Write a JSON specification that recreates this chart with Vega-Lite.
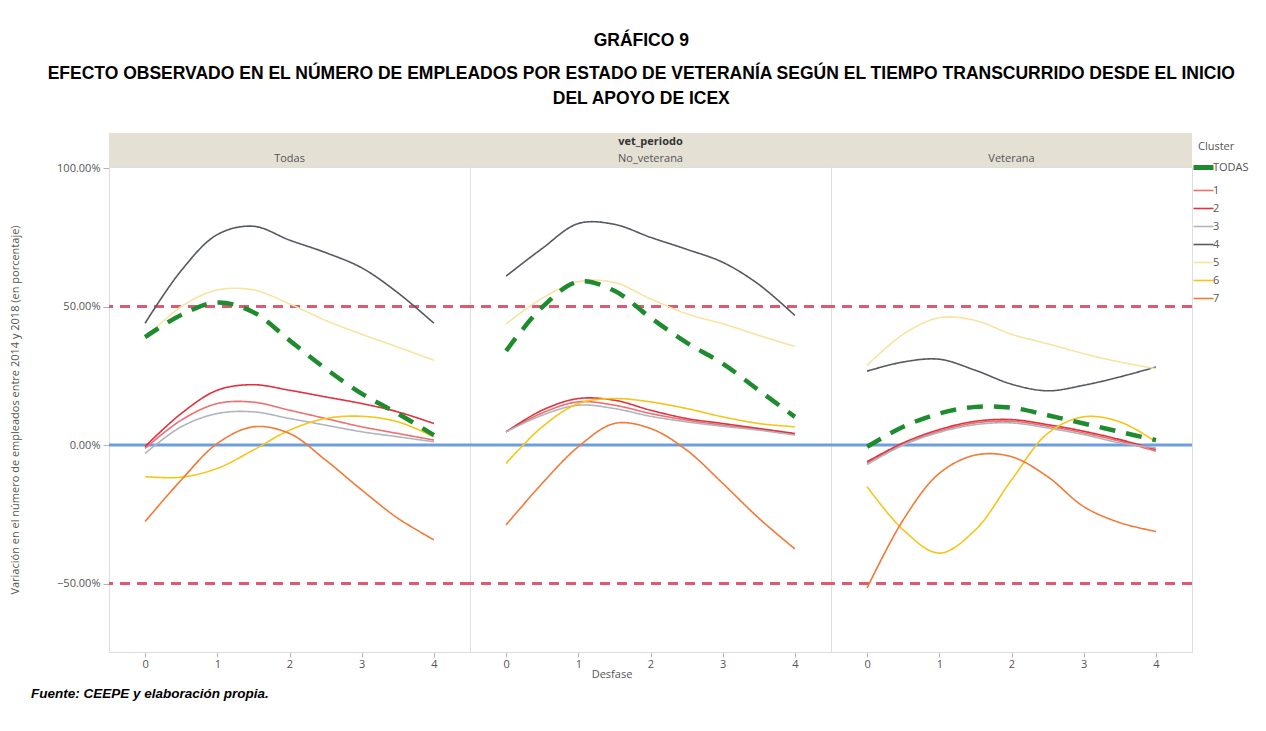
{
  "$schema": "https://vega.github.io/schema/vega-lite/v6.json",
  "padding": {"left": 9, "top": 32, "right": 0, "bottom": 0},
  "bounds": "flush",
  "config": {
    "font": "Open Sans",
    "view": {"stroke": "#dedede", "strokeWidth": 1},
    "axis": {"labelColor": "#555", "labelFontSize": 11, "domainColor": "#b5b5b5", "tickColor": "#b5b5b5", "grid": false, "titleColor": "#555", "titleFontWeight": "normal", "titleFontSize": 11},
    "legend": {"titleColor": "#555", "titleFontWeight": "normal", "titleFontSize": 11, "labelColor": "#555", "labelFontSize": 11, "symbolType": "stroke", "symbolSize": 400, "symbolStrokeWidth": 2, "rowPadding": 6, "labelOffset": 4, "titlePadding": 10}
  },
  "title": {
    "text": "GRÁFICO 9",
    "subtitle": ["EFECTO OBSERVADO EN EL NÚMERO DE EMPLEADOS POR ESTADO DE VETERANÍA SEGÚN EL TIEMPO TRANSCURRIDO DESDE EL INICIO", "DEL APOYO DE ICEX"],
    "anchor": "middle",
    "frame": "bounds",
    "dx": 12,
    "font": "Liberation Sans",
    "fontSize": 17.5,
    "fontWeight": "bold",
    "color": "#000",
    "subtitleFont": "Liberation Sans",
    "subtitleFontSize": 17.5,
    "subtitleFontWeight": "bold",
    "subtitleColor": "#000",
    "subtitleLineHeight": 25,
    "subtitlePadding": 15,
    "offset": 25
  },
  "data": {"values": [
    {"panel":"Todas","cluster":"1","x":0,"v":-1.2},{"panel":"Todas","cluster":"1","x":0.5,"v":9},{"panel":"Todas","cluster":"1","x":1,"v":15},{"panel":"Todas","cluster":"1","x":1.5,"v":15.5},{"panel":"Todas","cluster":"1","x":2,"v":12.6},{"panel":"Todas","cluster":"1","x":2.5,"v":9.6},{"panel":"Todas","cluster":"1","x":3,"v":6.6},{"panel":"Todas","cluster":"1","x":3.5,"v":4.2},{"panel":"Todas","cluster":"1","x":4,"v":1.8},
    {"panel":"Todas","cluster":"2","x":0,"v":-0.5},{"panel":"Todas","cluster":"2","x":0.5,"v":11.4},{"panel":"Todas","cluster":"2","x":1,"v":19.8},{"panel":"Todas","cluster":"2","x":1.5,"v":21.8},{"panel":"Todas","cluster":"2","x":2,"v":19.8},{"panel":"Todas","cluster":"2","x":2.5,"v":17.4},{"panel":"Todas","cluster":"2","x":3,"v":15},{"panel":"Todas","cluster":"2","x":3.5,"v":12},{"panel":"Todas","cluster":"2","x":4,"v":7.8},
    {"panel":"Todas","cluster":"3","x":0,"v":-3},{"panel":"Todas","cluster":"3","x":0.5,"v":6.6},{"panel":"Todas","cluster":"3","x":1,"v":11.4},{"panel":"Todas","cluster":"3","x":1.5,"v":12},{"panel":"Todas","cluster":"3","x":2,"v":9.6},{"panel":"Todas","cluster":"3","x":2.5,"v":7.2},{"panel":"Todas","cluster":"3","x":3,"v":4.8},{"panel":"Todas","cluster":"3","x":3.5,"v":3},{"panel":"Todas","cluster":"3","x":4,"v":1.2},
    {"panel":"Todas","cluster":"4","x":0,"v":44},{"panel":"Todas","cluster":"4","x":0.5,"v":63},{"panel":"Todas","cluster":"4","x":1,"v":76},{"panel":"Todas","cluster":"4","x":1.5,"v":79},{"panel":"Todas","cluster":"4","x":2,"v":74},{"panel":"Todas","cluster":"4","x":2.5,"v":69.5},{"panel":"Todas","cluster":"4","x":3,"v":64},{"panel":"Todas","cluster":"4","x":3.5,"v":55},{"panel":"Todas","cluster":"4","x":4,"v":44},
    {"panel":"Todas","cluster":"5","x":0,"v":38.5},{"panel":"Todas","cluster":"5","x":0.5,"v":50},{"panel":"Todas","cluster":"5","x":1,"v":56},{"panel":"Todas","cluster":"5","x":1.5,"v":56},{"panel":"Todas","cluster":"5","x":2,"v":51},{"panel":"Todas","cluster":"5","x":2.5,"v":45},{"panel":"Todas","cluster":"5","x":3,"v":40},{"panel":"Todas","cluster":"5","x":3.5,"v":35.4},{"panel":"Todas","cluster":"5","x":4,"v":30.6},
    {"panel":"Todas","cluster":"6","x":0,"v":-11.4},{"panel":"Todas","cluster":"6","x":0.5,"v":-11.6},{"panel":"Todas","cluster":"6","x":1,"v":-8.4},{"panel":"Todas","cluster":"6","x":1.5,"v":-1.8},{"panel":"Todas","cluster":"6","x":2,"v":5.4},{"panel":"Todas","cluster":"6","x":2.5,"v":9.6},{"panel":"Todas","cluster":"6","x":3,"v":10.4},{"panel":"Todas","cluster":"6","x":3.5,"v":8.4},{"panel":"Todas","cluster":"6","x":4,"v":3},
    {"panel":"Todas","cluster":"7","x":0,"v":-27.6},{"panel":"Todas","cluster":"7","x":0.5,"v":-12.6},{"panel":"Todas","cluster":"7","x":1,"v":0.6},{"panel":"Todas","cluster":"7","x":1.5,"v":6.6},{"panel":"Todas","cluster":"7","x":2,"v":4.2},{"panel":"Todas","cluster":"7","x":2.5,"v":-5.4},{"panel":"Todas","cluster":"7","x":3,"v":-16.2},{"panel":"Todas","cluster":"7","x":3.5,"v":-26.4},{"panel":"Todas","cluster":"7","x":4,"v":-34.2},
    {"panel":"Todas","cluster":"TODAS","x":0,"v":39},{"panel":"Todas","cluster":"TODAS","x":0.5,"v":47},{"panel":"Todas","cluster":"TODAS","x":1,"v":51.5},{"panel":"Todas","cluster":"TODAS","x":1.5,"v":48},{"panel":"Todas","cluster":"TODAS","x":2,"v":37.8},{"panel":"Todas","cluster":"TODAS","x":2.5,"v":27.6},{"panel":"Todas","cluster":"TODAS","x":3,"v":18.6},{"panel":"Todas","cluster":"TODAS","x":3.5,"v":11.4},{"panel":"Todas","cluster":"TODAS","x":4,"v":3.6},

    {"panel":"No_veterana","cluster":"1","x":0,"v":4.8},{"panel":"No_veterana","cluster":"1","x":0.5,"v":11.6},{"panel":"No_veterana","cluster":"1","x":1,"v":15.6},{"panel":"No_veterana","cluster":"1","x":1.5,"v":14.4},{"panel":"No_veterana","cluster":"1","x":2,"v":11.4},{"panel":"No_veterana","cluster":"1","x":2.5,"v":9},{"panel":"No_veterana","cluster":"1","x":3,"v":7.2},{"panel":"No_veterana","cluster":"1","x":3.5,"v":5.6},{"panel":"No_veterana","cluster":"1","x":4,"v":4},
    {"panel":"No_veterana","cluster":"2","x":0,"v":4.8},{"panel":"No_veterana","cluster":"2","x":0.5,"v":12.6},{"panel":"No_veterana","cluster":"2","x":1,"v":16.8},{"panel":"No_veterana","cluster":"2","x":1.5,"v":16.2},{"panel":"No_veterana","cluster":"2","x":2,"v":12.6},{"panel":"No_veterana","cluster":"2","x":2.5,"v":9.6},{"panel":"No_veterana","cluster":"2","x":3,"v":7.8},{"panel":"No_veterana","cluster":"2","x":3.5,"v":6},{"panel":"No_veterana","cluster":"2","x":4,"v":4.2},
    {"panel":"No_veterana","cluster":"3","x":0,"v":4.8},{"panel":"No_veterana","cluster":"3","x":0.5,"v":10.8},{"panel":"No_veterana","cluster":"3","x":1,"v":14.4},{"panel":"No_veterana","cluster":"3","x":1.5,"v":13.2},{"panel":"No_veterana","cluster":"3","x":2,"v":10.4},{"panel":"No_veterana","cluster":"3","x":2.5,"v":8.4},{"panel":"No_veterana","cluster":"3","x":3,"v":6.8},{"panel":"No_veterana","cluster":"3","x":3.5,"v":5.4},{"panel":"No_veterana","cluster":"3","x":4,"v":3.6},
    {"panel":"No_veterana","cluster":"4","x":0,"v":61},{"panel":"No_veterana","cluster":"4","x":0.5,"v":71},{"panel":"No_veterana","cluster":"4","x":1,"v":80},{"panel":"No_veterana","cluster":"4","x":1.5,"v":79.7},{"panel":"No_veterana","cluster":"4","x":2,"v":75},{"panel":"No_veterana","cluster":"4","x":2.5,"v":70.7},{"panel":"No_veterana","cluster":"4","x":3,"v":66},{"panel":"No_veterana","cluster":"4","x":3.5,"v":58},{"panel":"No_veterana","cluster":"4","x":4,"v":46.8},
    {"panel":"No_veterana","cluster":"5","x":0,"v":43.8},{"panel":"No_veterana","cluster":"5","x":0.5,"v":53},{"panel":"No_veterana","cluster":"5","x":1,"v":59},{"panel":"No_veterana","cluster":"5","x":1.5,"v":58.7},{"panel":"No_veterana","cluster":"5","x":2,"v":52.8},{"panel":"No_veterana","cluster":"5","x":2.5,"v":47.4},{"panel":"No_veterana","cluster":"5","x":3,"v":43.8},{"panel":"No_veterana","cluster":"5","x":3.5,"v":39.6},{"panel":"No_veterana","cluster":"5","x":4,"v":35.6},
    {"panel":"No_veterana","cluster":"6","x":0,"v":-6.6},{"panel":"No_veterana","cluster":"6","x":0.5,"v":6.6},{"panel":"No_veterana","cluster":"6","x":1,"v":15},{"panel":"No_veterana","cluster":"6","x":1.5,"v":16.8},{"panel":"No_veterana","cluster":"6","x":2,"v":15.6},{"panel":"No_veterana","cluster":"6","x":2.5,"v":13.2},{"panel":"No_veterana","cluster":"6","x":3,"v":10.2},{"panel":"No_veterana","cluster":"6","x":3.5,"v":7.8},{"panel":"No_veterana","cluster":"6","x":4,"v":6.6},
    {"panel":"No_veterana","cluster":"7","x":0,"v":-28.8},{"panel":"No_veterana","cluster":"7","x":0.5,"v":-13.8},{"panel":"No_veterana","cluster":"7","x":1,"v":-0.6},{"panel":"No_veterana","cluster":"7","x":1.5,"v":7.8},{"panel":"No_veterana","cluster":"7","x":2,"v":6},{"panel":"No_veterana","cluster":"7","x":2.5,"v":-1.8},{"panel":"No_veterana","cluster":"7","x":3,"v":-13.8},{"panel":"No_veterana","cluster":"7","x":3.5,"v":-26.4},{"panel":"No_veterana","cluster":"7","x":4,"v":-37.5},
    {"panel":"No_veterana","cluster":"TODAS","x":0,"v":34},{"panel":"No_veterana","cluster":"TODAS","x":0.5,"v":49.8},{"panel":"No_veterana","cluster":"TODAS","x":1,"v":59},{"panel":"No_veterana","cluster":"TODAS","x":1.5,"v":55.7},{"panel":"No_veterana","cluster":"TODAS","x":2,"v":46},{"panel":"No_veterana","cluster":"TODAS","x":2.5,"v":37},{"panel":"No_veterana","cluster":"TODAS","x":3,"v":29.4},{"panel":"No_veterana","cluster":"TODAS","x":3.5,"v":19.8},{"panel":"No_veterana","cluster":"TODAS","x":4,"v":10.2},

    {"panel":"Veterana","cluster":"1","x":0,"v":-6.5},{"panel":"Veterana","cluster":"1","x":0.5,"v":0.2},{"panel":"Veterana","cluster":"1","x":1,"v":5},{"panel":"Veterana","cluster":"1","x":1.5,"v":8},{"panel":"Veterana","cluster":"1","x":2,"v":8.6},{"panel":"Veterana","cluster":"1","x":2.5,"v":6.8},{"panel":"Veterana","cluster":"1","x":3,"v":4.4},{"panel":"Veterana","cluster":"1","x":3.5,"v":1.4},{"panel":"Veterana","cluster":"1","x":4,"v":-2.2},
    {"panel":"Veterana","cluster":"2","x":0,"v":-6},{"panel":"Veterana","cluster":"2","x":0.5,"v":0.8},{"panel":"Veterana","cluster":"2","x":1,"v":5.6},{"panel":"Veterana","cluster":"2","x":1.5,"v":8.6},{"panel":"Veterana","cluster":"2","x":2,"v":9.2},{"panel":"Veterana","cluster":"2","x":2.5,"v":7.4},{"panel":"Veterana","cluster":"2","x":3,"v":5},{"panel":"Veterana","cluster":"2","x":3.5,"v":2},{"panel":"Veterana","cluster":"2","x":4,"v":-1.6},
    {"panel":"Veterana","cluster":"3","x":0,"v":-7},{"panel":"Veterana","cluster":"3","x":0.5,"v":0},{"panel":"Veterana","cluster":"3","x":1,"v":4.6},{"panel":"Veterana","cluster":"3","x":1.5,"v":7.4},{"panel":"Veterana","cluster":"3","x":2,"v":8},{"panel":"Veterana","cluster":"3","x":2.5,"v":6.2},{"panel":"Veterana","cluster":"3","x":3,"v":3.8},{"panel":"Veterana","cluster":"3","x":3.5,"v":0.8},{"panel":"Veterana","cluster":"3","x":4,"v":-1},
    {"panel":"Veterana","cluster":"4","x":0,"v":26.7},{"panel":"Veterana","cluster":"4","x":0.5,"v":30},{"panel":"Veterana","cluster":"4","x":1,"v":31},{"panel":"Veterana","cluster":"4","x":1.5,"v":27},{"panel":"Veterana","cluster":"4","x":2,"v":22},{"panel":"Veterana","cluster":"4","x":2.5,"v":19.6},{"panel":"Veterana","cluster":"4","x":3,"v":21.6},{"panel":"Veterana","cluster":"4","x":3.5,"v":24.6},{"panel":"Veterana","cluster":"4","x":4,"v":28.2},
    {"panel":"Veterana","cluster":"5","x":0,"v":28.8},{"panel":"Veterana","cluster":"5","x":0.5,"v":40},{"panel":"Veterana","cluster":"5","x":1,"v":46},{"panel":"Veterana","cluster":"5","x":1.5,"v":45},{"panel":"Veterana","cluster":"5","x":2,"v":40},{"panel":"Veterana","cluster":"5","x":2.5,"v":36.6},{"panel":"Veterana","cluster":"5","x":3,"v":33},{"panel":"Veterana","cluster":"5","x":3.5,"v":30},{"panel":"Veterana","cluster":"5","x":4,"v":27.6},
    {"panel":"Veterana","cluster":"6","x":0,"v":-15},{"panel":"Veterana","cluster":"6","x":0.5,"v":-30.6},{"panel":"Veterana","cluster":"6","x":1,"v":-39},{"panel":"Veterana","cluster":"6","x":1.5,"v":-30.6},{"panel":"Veterana","cluster":"6","x":2,"v":-12.6},{"panel":"Veterana","cluster":"6","x":2.5,"v":4.2},{"panel":"Veterana","cluster":"6","x":3,"v":10.2},{"panel":"Veterana","cluster":"6","x":3.5,"v":8.4},{"panel":"Veterana","cluster":"6","x":4,"v":1.2},
    {"panel":"Veterana","cluster":"7","x":0,"v":-51.6},{"panel":"Veterana","cluster":"7","x":0.5,"v":-27},{"panel":"Veterana","cluster":"7","x":1,"v":-10.2},{"panel":"Veterana","cluster":"7","x":1.5,"v":-3.6},{"panel":"Veterana","cluster":"7","x":2,"v":-4.2},{"panel":"Veterana","cluster":"7","x":2.5,"v":-11.4},{"panel":"Veterana","cluster":"7","x":3,"v":-22.2},{"panel":"Veterana","cluster":"7","x":3.5,"v":-28},{"panel":"Veterana","cluster":"7","x":4,"v":-31.2},
    {"panel":"Veterana","cluster":"TODAS","x":0,"v":-0.6},{"panel":"Veterana","cluster":"TODAS","x":0.5,"v":6.6},{"panel":"Veterana","cluster":"TODAS","x":1,"v":11.4},{"panel":"Veterana","cluster":"TODAS","x":1.5,"v":13.8},{"panel":"Veterana","cluster":"TODAS","x":2,"v":13.5},{"panel":"Veterana","cluster":"TODAS","x":2.5,"v":10.8},{"panel":"Veterana","cluster":"TODAS","x":3,"v":7.8},{"panel":"Veterana","cluster":"TODAS","x":3.5,"v":4.8},{"panel":"Veterana","cluster":"TODAS","x":4,"v":1.8}
  ]},
  "facet": {
    "column": {
      "field": "panel",
      "type": "nominal",
      "sort": ["Todas", "No_veterana", "Veterana"],
      "header": {"title": "Desfase", "titleOrient": "bottom", "labels": false, "titleFont": "Open Sans", "titleFontSize": 11, "titleFontWeight": "normal", "titleColor": "#555", "titlePadding": -10}
    }
  },
  "spacing": 0,
  "spec": {
    "width": 361,
    "height": 485,
    "layer": [
      {
        "transform": [{"filter": "datum.cluster == 'TODAS' && datum.x == 0"}],
        "mark": {"type": "rect", "color": "#e4e0d4"},
        "encoding": {
          "x": {"datum": -0.5, "type": "quantitative"},
          "x2": {"datum": 4.5},
          "y": {"datum": 100.4, "type": "quantitative"},
          "y2": {"datum": 112.7}
        }
      },
      {
        "transform": [{"filter": "datum.cluster == 'TODAS' && datum.x == 0 && datum.panel == 'No_veterana'"}],
        "mark": {"type": "text", "text": "vet_periodo", "fontWeight": "bold", "fontSize": 11, "color": "#333", "baseline": "middle"},
        "encoding": {"x": {"datum": 2, "type": "quantitative"}, "y": {"datum": 109.6, "type": "quantitative"}}
      },
      {
        "transform": [{"filter": "datum.cluster == 'TODAS' && datum.x == 0"}],
        "mark": {"type": "text", "fontSize": 11, "color": "#555", "baseline": "middle"},
        "encoding": {"x": {"datum": 2, "type": "quantitative"}, "y": {"datum": 103.4, "type": "quantitative"}, "text": {"field": "panel"}}
      },
      {
        "transform": [{"filter": "datum.cluster == 'TODAS' && datum.x == 0"}],
        "mark": {"type": "rule", "color": "#6e9de0", "strokeWidth": 3},
        "encoding": {"y": {"datum": 0, "type": "quantitative"}}
      },
      {
        "transform": [{"filter": "datum.cluster == 'TODAS' && datum.x == 0"}],
        "mark": {"type": "rule", "color": "#de5a72", "strokeWidth": 3, "strokeDash": [10, 7]},
        "encoding": {"y": {"datum": 50, "type": "quantitative"}}
      },
      {
        "transform": [{"filter": "datum.cluster == 'TODAS' && datum.x == 0"}],
        "mark": {"type": "rule", "color": "#de5a72", "strokeWidth": 3, "strokeDash": [10, 7]},
        "encoding": {"y": {"datum": -50, "type": "quantitative"}}
      },
      {
        "mark": {"type": "line", "interpolate": "catmull-rom"},
        "encoding": {
          "x": {"field": "x", "type": "quantitative", "scale": {"domain": [-0.5, 4.5], "nice": false, "zero": false}, "axis": {"values": [0, 1, 2, 3, 4], "format": "d", "title": null, "tickSize": 5, "labelPadding": 1}},
          "y": {"field": "v", "type": "quantitative", "scale": {"domain": [-74.7, 100.4], "nice": false, "zero": false}, "axis": {"values": [-50, 0, 50, 100], "labelExpr": "format(datum.value, '.2f') + '%'", "title": "Variación en el número de empleados entre 2014 y 2018 (en porcentaje)", "tickSize": 6, "labelPadding": 3, "titlePadding": 36}},
          "color": {"field": "cluster", "type": "nominal", "title": "Cluster", "scale": {"domain": ["TODAS", "1", "2", "3", "4", "5", "6", "7"], "range": ["#1e8c2e", "#ec7070", "#e0323f", "#b0b5bd", "#555a60", "#f6e4a0", "#f5c518", "#f07a36"]}, "legend": {"orient": "none", "legendX": 1089, "legendY": -26, "encode": {"symbols": {"update": {"strokeWidth": {"signal": "datum.value === 'TODAS' ? 5 : 1.6"}}}}}},
          "strokeWidth": {"condition": {"test": "datum.cluster === 'TODAS'", "value": 4.5}, "value": 1.6},
          "strokeDash": {"condition": {"test": "datum.cluster === 'TODAS'", "value": [16, 11]}, "value": [1, 0]}
        }
      },
      {
        "transform": [{"filter": "datum.cluster == 'TODAS' && datum.x == 0 && datum.panel == 'Todas'"}],
        "mark": {"type": "text", "text": "Fuente: CEEPE y elaboración propia.", "font": "Liberation Sans", "fontStyle": "italic", "fontWeight": "bold", "fontSize": 13.5, "color": "#000", "align": "left", "baseline": "middle"},
        "encoding": {"x": {"datum": -1.58, "type": "quantitative"}, "y": {"datum": -89.9, "type": "quantitative"}}
      }
    ]
  },
  "resolve": {"scale": {"x": "shared", "y": "shared"}}
}
